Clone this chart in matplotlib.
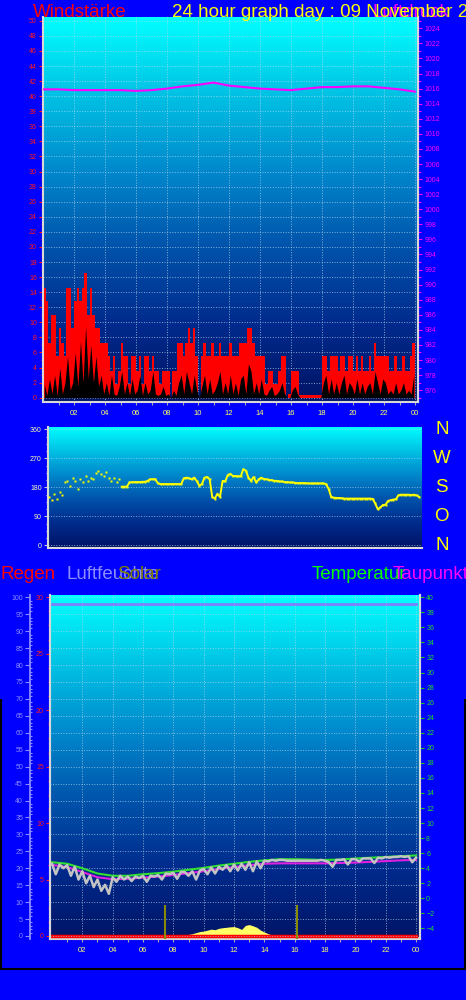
import matplotlib.pyplot as plt
import numpy as np
from matplotlib.colors import LinearSegmentedColormap
from matplotlib.lines import Line2D

plt.rcParams['font.family'] = ['Liberation Sans', 'DejaVu Sans']

# Windstärke (km/h), 10-Minuten-Werte: Böen (rot) und Mittel (schwarz)
boeen = [14.6, 12.8, 7.3, 11.0, 11.0, 5.5,
         9.2, 7.3, 5.5, 14.6, 14.6, 9.2,
         12.8, 14.6, 12.8, 14.6, 16.5, 11.0,
         14.6, 11.0, 9.2, 9.2, 7.3, 7.3,
         7.3, 5.5, 3.6, 5.5, 1.8, 3.6,
         7.3, 5.5, 5.5, 1.8, 5.5, 5.5,
         3.6, 5.5, 1.8, 5.5, 5.5, 3.6,
         5.5, 3.6, 3.6, 1.8, 3.6, 3.6,
         3.6, 0.0, 3.6, 3.6, 7.3, 7.3,
         5.5, 7.3, 9.2, 7.3, 9.2, 5.5,
         0.0, 5.5, 7.3, 5.5, 5.5, 7.3,
         5.5, 5.5, 7.3, 5.5, 5.5, 5.5,
         7.3, 5.5, 5.5, 5.5, 7.3, 7.3,
         7.3, 9.2, 9.2, 7.3, 5.5, 5.5,
         5.5, 5.5, 1.8, 3.6, 3.6, 1.8,
         1.8, 3.6, 5.5, 5.5, 0.0, 0.5,
         3.6, 3.6, 3.6, 0.3, 0.3, 0.3,
         0.3, 0.3, 0.3, 0.3, 0.3, 0.3,
         5.5, 5.5, 3.6, 5.5, 5.5, 5.5,
         3.6, 5.5, 5.5, 3.6, 5.5, 5.5,
         3.6, 5.5, 3.6, 5.5, 3.6, 3.6,
         5.5, 3.6, 7.3, 5.5, 5.5, 5.5,
         5.5, 5.5, 3.6, 3.6, 5.5, 3.6,
         3.6, 5.5, 3.6, 3.6, 5.5, 7.3]
mittel = [1.8, 0.3, 2.5, 0.5, 3.0, 0.3,
          4.0, 0.5, 2.0, 5.5, 1.0, 2.0,
          6.0, 1.5, 7.5, 2.0, 9.5, 2.5,
          7.0, 2.0, 5.5, 1.5, 3.0, 0.5,
          2.0, 0.3, 3.0, 0.5, 0.3, 1.5,
          3.5, 0.5, 2.0, 0.3, 2.5, 0.5,
          1.0, 3.0, 0.3, 2.0, 0.5, 1.0,
          3.5, 0.5, 0.3, 0.5, 1.5, 0.3,
          0.5, 0.0, 1.0, 0.3, 2.0, 3.0,
          0.5, 3.5, 2.0, 0.5, 3.0, 1.0,
          0.0, 1.5, 3.0, 0.5, 2.5, 0.5,
          1.0, 2.0, 3.5, 0.5, 2.0, 0.5,
          3.0, 0.5, 2.0, 0.3, 2.5, 3.0,
          0.5, 4.5, 3.5, 0.5, 2.0, 0.5,
          2.5, 0.5, 0.3, 1.0, 1.5, 0.3,
          0.5, 1.0, 2.0, 0.5, 0.0, 0.0,
          1.0, 1.5, 0.5, 0.0, 0.0, 0.0,
          0.0, 0.0, 0.0, 0.0, 0.0, 0.0,
          2.0, 3.0, 0.5, 2.5, 0.5, 2.0,
          0.5, 2.0, 3.0, 0.5, 2.0, 1.5,
          0.5, 2.5, 0.5, 2.0, 0.5, 1.5,
          2.0, 0.5, 3.5, 2.0, 0.5, 2.5,
          2.0, 0.5, 1.0, 0.5, 2.0, 0.5,
          1.0, 2.0, 0.5, 1.0, 0.5, 3.0]

# Luftdruck (hPa), stündlich 0..24 Uhr
druck = [1015.9, 1015.9, 1015.8, 1015.8, 1015.8, 1015.8, 1015.7, 1015.8,
         1016.0, 1016.3, 1016.5, 1016.8, 1016.4, 1016.2, 1016.0, 1015.9,
         1015.8, 1016.0, 1016.2, 1016.2, 1016.3, 1016.3, 1016.1, 1015.9, 1015.6]

# Windrichtung (Grad), 10-Minuten-Werte
richtung = [150, 140, 160, 145, 165, 155,
            195, 200, 185, 210, 200, 175,
            205, 195, 215, 200, 210, 205,
            225, 232, 220, 215, 228, 210,
            200, 210, 195, 205, 182, 182,
            182, 195, 196, 196, 196, 196,
            197, 197, 200, 205, 205, 205,
            192, 190, 190, 190, 190, 190,
            190, 190, 190, 190, 208, 210,
            208, 205, 210, 200, 185, 190,
            210, 212, 205, 150, 145, 160,
            150, 200, 198, 218, 222, 215,
            215, 214, 214, 236, 232, 210,
            200, 212, 195, 205, 210, 205,
            205, 203, 202, 200, 200, 198,
            198, 196, 196, 195, 195, 194,
            193, 193, 193, 193, 192, 192,
            192, 192, 192, 192, 192, 190,
            175, 150, 148, 147, 147, 146,
            145, 145, 145, 145, 145, 145,
            145, 145, 145, 145, 145, 144,
            130, 112, 118, 125, 126, 138,
            140, 142, 143, 155, 157, 157,
            157, 157, 156, 157, 155, 150]
himmelsrichtungen = ['N', 'W', 'S', 'O', 'N']
richtung_grad = [360, 270, 180, 90, 0]

# Temperatur und Taupunkt (°C), stündlich 0..24 Uhr
temperatur = [4.8, 4.6, 4.0, 3.3, 3.0, 3.0, 3.2, 3.35, 3.55, 3.8, 4.05, 4.35, 4.6,
              4.85, 5.05, 5.2, 5.2, 5.15, 5.1, 5.15, 5.3, 5.4, 5.5, 5.6, 5.7]
taupunkt = [4.45, 4.15, 3.5, 2.8, 2.55, 2.6, 2.75, 2.9, 3.1, 3.35, 3.6, 3.9, 4.15,
            4.4, 4.6, 4.65, 4.65, 4.65, 4.65, 4.7, 4.75, 4.85, 4.95, 5.05, 5.1]
# gefühlte Temperatur (grau), 15-Minuten-Werte
gefuehlt = [4.6, 3.2, 4.5, 4.0, 4.4, 3.0, 4.2, 2.5,
            3.6, 2.0, 3.0, 1.5, 2.5, 1.0, 1.8, 0.6,
            2.8, 2.2, 3.0, 2.5, 2.9, 2.3, 2.9, 2.7,
            3.0, 2.2, 3.0, 2.9, 3.1, 2.5, 3.3, 3.2,
            3.4, 2.6, 3.5, 3.5, 3.0, 3.6, 2.5, 3.7,
            3.9, 3.2, 4.1, 3.3, 4.2, 3.8, 4.4, 3.6,
            4.5, 3.7, 4.6, 3.8, 4.8, 3.6, 4.9, 4.0,
            5.0, 4.9, 5.1, 5.0, 5.1, 5.1, 5.0, 5.0,
            5.0, 5.0, 5.0, 5.0, 5.0, 5.0, 5.0, 5.1,
            5.0, 4.8, 4.2, 5.1, 5.1, 5.2, 4.5, 5.2,
            5.2, 4.9, 5.3, 5.3, 5.3, 4.7, 5.4, 5.3,
            5.5, 5.4, 5.5, 5.5, 5.6, 5.5, 5.6, 4.8, 5.4]
# Luftfeuchte (%) und Regen (mm), stündlich 0..24 Uhr
feuchte = [98, 98, 98, 98, 98, 98, 98, 98, 98, 98, 98, 98, 98,
           98, 98, 98, 98, 98, 98, 98, 98, 98, 98, 98, 98]
regen = [0.0, 0.0, 0.0, 0.0, 0.0, 0.0, 0.0, 0.0, 0.0, 0.0, 0.0, 0.0, 0.0,
         0.0, 0.0, 0.0, 0.0, 0.0, 0.0, 0.0, 0.0, 0.0, 0.0, 0.0, 0.0]
# Solarstrahlung (W/m²)
solar_zeit = [8.25, 8.5, 8.75, 9.0, 9.25, 9.5, 9.75, 10.0, 10.25, 10.5, 10.75,
              11.0, 11.25, 11.5, 11.75, 12.0, 12.25, 12.5, 12.75, 13.0, 13.25,
              13.5, 13.75, 14.0, 14.25, 14.5, 14.75, 15.0, 15.25, 15.5]
solar_wert = [5, 12, 20, 25, 30, 38, 45, 48, 55, 62, 58, 68, 72, 75, 78, 80,
              72, 60, 88, 94, 85, 75, 55, 42, 30, 22, 18, 10, 10, 0]
sonnen_marken = [7.45, 16.15]

stunden_labels = ['02', '04', '06', '08', '10', '12', '14', '16', '18', '20', '22', '00']

t10 = np.arange(len(boeen)) / 6
t15 = np.arange(len(gefuehlt)) / 4
t60 = np.arange(len(druck))

W, H = 466, 1000
fig = plt.figure(figsize=(W / 100, H / 100), dpi=100, facecolor='#0000FF')

cmap = LinearSegmentedColormap.from_list('himmel', [
    (0.0, '#001466'), (0.2, '#002A8C'), (0.4, '#0052AA'),
    (0.6, '#0088CC'), (0.8, '#00C2E4'), (1.0, '#00FFFF')])
verlauf = np.linspace(0, 1, 256).reshape(-1, 1)


def hintergrund(ax):
    ax.imshow(verlauf, cmap=cmap, origin='lower', extent=[0, 1, 0, 1],
              transform=ax.transAxes, aspect='auto', zorder=0, interpolation='bilinear')


def box(x0, y0, x1, y1):
    return [x0 / W, 1 - y1 / H, (x1 - x0) / W, (y1 - y0) / H]


def stundenachse(ax):
    ax.set_xticks(np.arange(2, 25, 2))
    ax.set_xticklabels(stunden_labels)
    ax.set_xticks(np.arange(1, 24, 2), minor=True)
    ax.tick_params(axis='x', which='both', colors='#A8A8A8', length=2.5, width=0.8,
                   labelcolor='#FFFF66', labelsize=5.5, pad=3)


grau = '#D8D8D8'
gitter = dict(color='#B8D8F0', linestyle=':', linewidth=0.7, alpha=0.7)

# ---------- Wind und Luftdruck ----------
ax1 = fig.add_axes(box(43, 17, 418, 402))
hintergrund(ax1)
ax1.bar(t10, boeen, width=1 / 6, align='edge', color='#FF0000', linewidth=0, zorder=2)
ax1.fill_between(t10 + 1 / 12, mittel, color='black', linewidth=0, zorder=3)
ax1.set_xlim(0, 24.19)
ax1.set_ylim(-0.57, 50.5)
ax1.set_yticks(np.arange(0, 51, 2))
ax1.set_yticks(np.arange(0, 51, 1), minor=True)
ax1.tick_params(axis='y', which='major', colors='#FF1A1A', labelsize=5, length=3, width=0.8, pad=1.5)
ax1.tick_params(axis='y', which='minor', colors='#FF1A1A', length=1.8, width=0.8)
stundenachse(ax1)
ax1.set_axisbelow(True)
ax1.grid(True, which='major', **gitter)
ax1.spines['top'].set_visible(False)
for s in ['left', 'bottom', 'right']:
    ax1.spines[s].set_color(grau)
    ax1.spines[s].set_linewidth(1.5)

ax1p = ax1.twinx()
ax1p.plot(t60, druck, color='#FF00FF', linewidth=1.5)
ax1p.set_ylim(974.43, 1025.5)
ax1p.set_yticks(np.arange(976, 1025, 2))
ax1p.set_yticks(np.arange(975, 1026, 1), minor=True)
ax1p.tick_params(axis='y', which='major', colors='#FF00FF', labelsize=5, length=3, width=0.8, pad=1.5)
ax1p.tick_params(axis='y', which='minor', colors='#FF00FF', length=1.8, width=0.8)
for s in ['left', 'bottom', 'top']:
    ax1p.spines[s].set_visible(False)
ax1p.spines['right'].set_color(grau)
ax1p.spines['right'].set_linewidth(1.5)

# ---------- Windrichtung ----------
ax2 = fig.add_axes(box(48, 426.7, 422, 547.7))
hintergrund(ax2)
ax2.plot(t10 + 1 / 12, richtung, 's', ms=2.0, color='#FFFF00', mec='none', zorder=3)
ax2.plot(t10[28:] + 1 / 12, richtung[28:], '-', color='#FFFF00', linewidth=1.4, zorder=3)
ax2.set_xlim(0, 24.1)
ax2.set_ylim(-7.4, 368)
ax2.set_yticks([0, 90, 180, 270, 360])
ax2.set_yticks(np.arange(0, 361, 22.5), minor=True)
ax2.tick_params(axis='y', which='major', colors='#C8C8C8', labelcolor='#FFFFB0',
                labelsize=5, length=3, width=0.8, pad=1.5)
ax2.tick_params(axis='y', which='minor', colors='#C8C8C8', length=1.8, width=0.8)
ax2.set_xticks([])
ax2.set_axisbelow(True)
ax2.grid(True, axis='y', **gitter)
for s in ['top', 'right']:
    ax2.spines[s].set_visible(False)
for s in ['left', 'bottom']:
    ax2.spines[s].set_color(grau)
    ax2.spines[s].set_linewidth(1.5)
for name, grad in zip(himmelsrichtungen, richtung_grad):
    ax2.text(1.053, grad, name, transform=ax2.get_yaxis_transform(), color='#FFFF00',
             fontsize=13.5, ha='center', va='center')

# ---------- Regen, Feuchte, Solar, Temperatur ----------
ax3 = fig.add_axes(box(50, 595, 420, 939))
hintergrund(ax3)
ax3.set_xlim(-0.13, 24.26)
ax3.set_ylim(-7, 2400)
ax3.fill_between(solar_zeit, solar_wert, color='#FFFF66', linewidth=0, zorder=2)
ax3.axhline(0, color='#FFFFC0', linewidth=1.2, zorder=2)
ax3.set_yticks([])
stundenachse(ax3)
ax3.set_axisbelow(True)
ax3.grid(True, axis='x', **gitter)
ax3.spines['top'].set_visible(False)
for s in ['left', 'bottom', 'right']:
    ax3.spines[s].set_color(grau)
    ax3.spines[s].set_linewidth(1.5)

ax3r = ax3.twinx()
ax3r.yaxis.tick_left()
ax3r.plot(t60, regen, color='#FF0000', linewidth=2.5)
ax3r.set_ylim(-0.267, 30.2)
ax3r.set_yticks(np.arange(0, 31, 5))
ax3r.set_yticks(np.arange(0, 30.1, 1.25), minor=True)
ax3r.tick_params(axis='y', which='major', colors='#FF1A1A', labelsize=5, length=3, width=0.8, pad=1.5)
ax3r.tick_params(axis='y', which='minor', colors='#FF1A1A', length=1.8, width=0.8)
for s in ['top', 'bottom', 'right']:
    ax3r.spines[s].set_visible(False)
ax3r.spines['left'].set_color(grau)
ax3r.spines['left'].set_linewidth(1.5)

lavendel = '#8C8CFF'
ax3h = ax3.twinx()
ax3h.yaxis.tick_left()
ax3h.spines['left'].set_position(('axes', (30 - 50) / 370))
ax3h.spines['left'].set_visible(True)
ax3h.spines['left'].set_color(lavendel)
ax3h.spines['left'].set_linewidth(1.3)
for s in ['top', 'bottom', 'right']:
    ax3h.spines[s].set_visible(False)
ax3h.plot(t60, feuchte, color='#8080FF', linewidth=2)
ax3h.vlines(sonnen_marken, -0.9, 9.2, color='#8A8A00', linewidth=1.5)
ax3h.set_ylim(-0.89, 100.68)
ax3h.set_yticks(np.arange(0, 101, 5))
ax3h.set_yticks(np.arange(0, 101, 1), minor=True)
ax3h.tick_params(axis='y', which='major', colors=lavendel, direction='out',
                 labelsize=5, length=3.5, width=0.8, pad=1.5)
ax3h.tick_params(axis='y', which='minor', colors=lavendel, direction='in', length=1.3, width=0.8)
ax3h.grid(True, axis='y', which='major', **gitter)

ax3t = ax3.twinx()
ax3t.plot(t60, taupunkt, color='#E020E0', linewidth=1.5)
ax3t.plot(t60, temperatur, color='#30E030', linewidth=1.5)
ax3t.plot(t15, gefuehlt, color='#C4C4C4', linewidth=1.8)
ax3t.set_ylim(-5.4, 40.3)
ax3t.set_yticks(np.arange(-4, 41, 2))
ax3t.tick_params(axis='y', which='major', colors='#20C020', labelcolor='#20E020',
                 labelsize=5, length=3, width=0.8, pad=1.5)
for s in ['top', 'bottom', 'left']:
    ax3t.spines[s].set_visible(False)
ax3t.spines['right'].set_color(grau)
ax3t.spines['right'].set_linewidth(1.5)

# ---------- Überschriften ----------
gross = 13.5
fig.text(33 / W, 1 - 17 / H, 'Windstärke', color='#FF0000', fontsize=gross, va='baseline')
fig.text(372 / W, 1 - 17 / H, 'Luftdruck', color='#FF00FF', fontsize=gross, va='baseline', zorder=1)
fig.text(172 / W, 1 - 17 / H, '24 hour graph day : 09 November 2', color='#FFFF00',
         fontsize=gross, va='baseline', zorder=2)
y3 = 1 - 579 / H
fig.text(0 / W, y3, 'Regen', color='#FF0000', fontsize=gross, va='baseline')
fig.text(66 / W, y3, 'Luftfeuchte', color=lavendel, fontsize=gross, va='baseline')
fig.text(117 / W, y3, 'Solar', color='#808000', fontsize=gross, va='baseline')
fig.text(312 / W, y3, 'Temperatur', color='#00FF00', fontsize=gross, va='baseline')
fig.text(393 / W, y3, 'Taupunkt', color='#FF00FF', fontsize=gross, va='baseline')

# Rahmen unten
fig.add_artist(Line2D([0, 1], [1 - 969 / H, 1 - 969 / H], color='black', linewidth=1.5,
                      transform=fig.transFigure))
fig.add_artist(Line2D([0.7 / W, 0.7 / W], [1 - 969 / H, 1 - 700 / H], color='black',
                      linewidth=1.5, transform=fig.transFigure))
fig.add_artist(Line2D([465 / W, 465 / W], [1 - 969 / H, 1 - 700 / H], color='black',
                      linewidth=1.5, transform=fig.transFigure))

fig.savefig('out.png', dpi=100, facecolor=fig.get_facecolor())
